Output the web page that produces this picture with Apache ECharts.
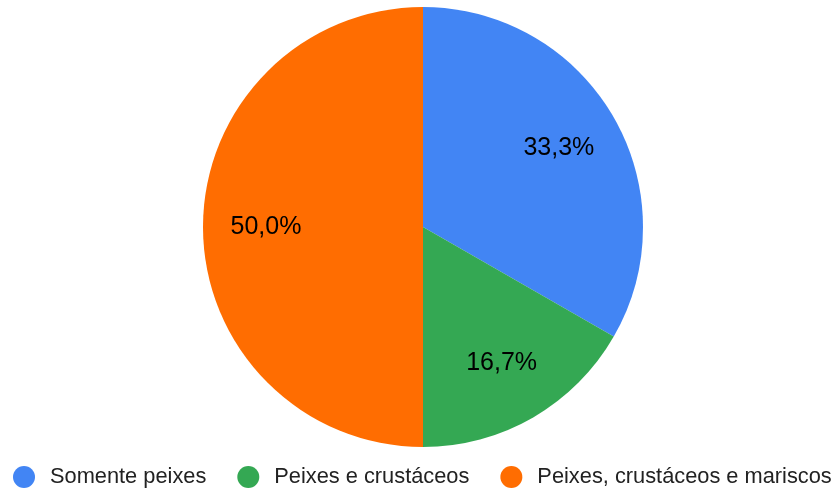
<!DOCTYPE html>
<html>
<head>
<meta charset="utf-8">
<script src="https://cdn.jsdelivr.net/npm/echarts@6/dist/echarts.min.js"></script>
<style>
  html, body { margin: 0; padding: 0; background: #fff; }
  #chart { width: 835px; height: 491px; }
</style>
</head>
<body>
<div id="chart"></div>
<script>
  var categories = ['Somente peixes', 'Peixes e crustáceos', 'Peixes, crustáceos e mariscos']
  var values = [33.3, 16.7, 50.0]
  var colors = ['#4285f4', '#34a853', '#ff6d01']

  var pieData = categories.map(function (name, i) {
    return { name: name, value: values[i], itemStyle: { color: colors[i] } }
  })

  // overlay ring used only to put the labels further out (Google-like)
  var labelData = categories.map(function (name, i) {
    return { name: name, value: values[i], itemStyle: { color: 'rgba(0,0,0,0)' } }
  })

  var chart = echarts.init(document.getElementById('chart'))
  chart.setOption({
    animation: false,
    color: colors,
    legend: {
      top: 466,
      left: 13,
      padding: 0,
      icon: 'circle',
      itemWidth: 22,
      itemHeight: 22,
      itemGap: 31,
      data: categories,
      textStyle: {
        fontFamily: 'Liberation Sans, Arial, sans-serif',
        fontSize: 21.8,
        color: '#222',
        padding: [0, 0, 0, 10]
      }
    },
    series: [
      {
        type: 'pie',
        center: [423, 227],
        radius: [0, 220],
        startAngle: 90,
        clockwise: true,
        silent: true,
        label: { show: false },
        labelLine: { show: false },
        itemStyle: { borderWidth: 0 },
        data: pieData
      },
      {
        type: 'pie',
        center: [423, 227],
        radius: [88, 220],
        startAngle: 90,
        clockwise: true,
        silent: true,
        legendHoverLink: false,
        labelLine: { show: false },
        label: {
          show: true,
          position: 'inside',
          fontFamily: 'Liberation Sans, Arial, sans-serif',
          fontSize: 25,
          color: '#000',
          formatter: function (p) {
            return p.value.toFixed(1).replace('.', ',') + '%'
          }
        },
        data: labelData
      }
    ]
  })
</script>
</body>
</html>
